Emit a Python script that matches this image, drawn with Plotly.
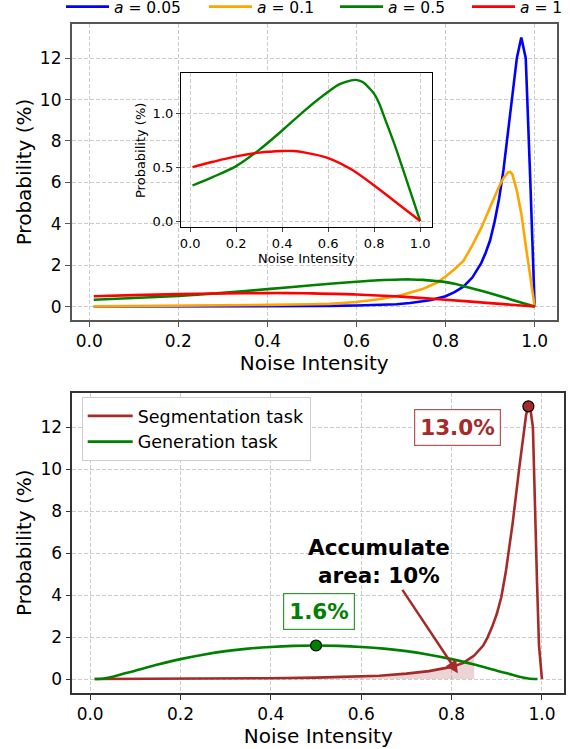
import plotly.graph_objects as go

# ---------------- data ----------------
blue_x = [0.01, 0.1, 0.2, 0.3, 0.4, 0.5, 0.54, 0.6, 0.65, 0.69, 0.72, 0.765, 0.8, 0.82, 0.84, 0.86,
          0.88, 0.89, 0.9, 0.91, 0.92, 0.93, 0.94, 0.95, 0.96, 0.97, 0.98, 0.99, 1.0]
blue_y = [0.0, 0.0, 0.0, 0.005, 0.01, 0.02, 0.03, 0.05, 0.08, 0.11, 0.17, 0.3, 0.5, 0.7, 0.96, 1.4,
          2.1, 2.6, 3.2, 4.1, 5.2, 6.6, 8.4, 10.2, 12.0, 13.0, 12.0, 6.2, 0.0]

orange_x = [0.01, 0.1, 0.2, 0.3, 0.4, 0.5, 0.54, 0.6, 0.65, 0.7, 0.75, 0.78, 0.8, 0.82, 0.84, 0.86,
            0.88, 0.9, 0.92, 0.93, 0.94, 0.945, 0.95, 0.96, 0.97, 0.98, 0.99, 1.0]
orange_y = [0.01, 0.02, 0.03, 0.05, 0.08, 0.11, 0.13, 0.22, 0.35, 0.55, 0.86, 1.15, 1.45, 1.8, 2.2, 2.95,
            3.8, 4.8, 5.8, 6.2, 6.48, 6.5, 6.38, 5.6, 4.5, 2.95, 1.55, 0.0]

green_x = [0.01, 0.1, 0.2, 0.3, 0.4, 0.5, 0.6, 0.65, 0.7, 0.72, 0.75, 0.78, 0.8, 0.82, 0.85, 0.88,
           0.9, 0.95, 1.0]
green_y = [0.33, 0.41, 0.51, 0.66, 0.84, 1.03, 1.2, 1.27, 1.305, 1.31, 1.29, 1.23, 1.18, 1.1, 0.93, 0.76,
           0.64, 0.32, 0.0]

red_x = [0.01, 0.1, 0.2, 0.3, 0.4, 0.45, 0.5, 0.6, 0.7, 0.8, 0.9, 1.0]
red_y = [0.50, 0.55, 0.60, 0.635, 0.65, 0.65, 0.635, 0.585, 0.48, 0.33, 0.165, 0.0]

a_labels = ["0.05", "0.1", "0.5", "1"]

seg_x = [0.01, 0.2, 0.4, 0.5, 0.6, 0.64, 0.7, 0.75, 0.8, 0.825, 0.85, 0.87, 0.88, 0.89, 0.9, 0.91,
         0.92, 0.935, 0.95, 0.96, 0.965, 0.97, 0.975, 0.98, 0.9825, 0.985, 0.989, 0.9935, 1.0]
seg_y = [0.0, 0.01, 0.04, 0.07, 0.12, 0.16, 0.26, 0.38, 0.58, 0.76, 1.12, 1.6, 2.0, 2.5, 3.1, 3.9,
         5.1, 7.4, 10.1, 11.9, 12.6, 13.0, 12.8, 12.0, 10.3, 8.0, 4.7, 1.6, 0.0]

gen_x = [0.01, 0.03, 0.05, 0.075, 0.1, 0.15, 0.2, 0.25, 0.3, 0.35, 0.4, 0.45, 0.5, 0.55, 0.6, 0.65,
         0.7, 0.75, 0.8, 0.85, 0.9, 0.925, 0.95, 0.97, 0.99]
gen_y = [0.0, 0.03, 0.11, 0.26, 0.4, 0.69, 0.95, 1.16, 1.33, 1.45, 1.53, 1.58, 1.6, 1.58, 1.53, 1.45,
         1.33, 1.16, 0.95, 0.69, 0.4, 0.26, 0.11, 0.03, 0.0]

accum_end = 0.85
accum_label = "Accumulate<br>area: 10%"

# ---------------- styles ----------------
FONT = "DejaVu Sans"
BROWN = "#a52a2a"
GREEN = "#008000"
W, H = 570, 749

fig = go.Figure()

# one single-entry legend per top series so each can sit where the reference puts it
top_legends = ["legend", "legend3", "legend4", "legend5"]
top_legend_px = [69, 212, 343, 475]

top_series = [(blue_x, blue_y, "#0000ff"), (orange_x, orange_y, "#ffa500"),
              (green_x, green_y, GREEN), (red_x, red_y, "#ff0000")]
for (xs, ys, c), lab, lg in zip(top_series, a_labels, top_legends):
    smooth = c in (GREEN, "#ff0000")
    fig.add_trace(go.Scatter(x=xs, y=ys, mode="lines", name=f"<i>a</i> = {lab}",
                             line=dict(color=c, width=2.6, shape="spline" if smooth else "linear",
                                       smoothing=0.8),
                             xaxis="x", yaxis="y", legend=lg))

# inset (a = 0.5, a = 1)
for xs, ys, c in [(green_x, green_y, GREEN), (red_x, red_y, "#ff0000")]:
    fig.add_trace(go.Scatter(x=xs, y=ys, mode="lines", showlegend=False,
                             line=dict(color=c, width=2.4, shape="spline", smoothing=0.8),
                             xaxis="x3", yaxis="y3"))

# bottom: shaded accumulated area
fx = [x for x in seg_x if x <= accum_end]
fy = [y for x, y in zip(seg_x, seg_y) if x <= accum_end]
fig.add_trace(go.Scatter(x=fx + [fx[-1]], y=fy + [0], mode="lines", fill="tozeroy",
                         fillcolor="rgba(165,42,42,0.2)", line=dict(width=0),
                         showlegend=False, xaxis="x2", yaxis="y2", hoverinfo="skip"))
fig.add_trace(go.Scatter(x=seg_x, y=seg_y, mode="lines", name="Segmentation task",
                         line=dict(color=BROWN, width=2.6), xaxis="x2", yaxis="y2", legend="legend2"))
fig.add_trace(go.Scatter(x=gen_x, y=gen_y, mode="lines", name="Generation task",
                         line=dict(color=GREEN, width=2.6, shape="spline", smoothing=0.8),
                         xaxis="x2", yaxis="y2", legend="legend2"))

si = seg_y.index(max(seg_y))
gi = gen_y.index(max(gen_y))
fig.add_trace(go.Scatter(x=[seg_x[si]], y=[seg_y[si]], mode="markers", showlegend=False,
                         marker=dict(color=BROWN, size=11, line=dict(color="black", width=1.2)),
                         xaxis="x2", yaxis="y2"))
fig.add_trace(go.Scatter(x=[gen_x[gi]], y=[gen_y[gi]], mode="markers", showlegend=False,
                         marker=dict(color=GREEN, size=11, line=dict(color="black", width=1.2)),
                         xaxis="x2", yaxis="y2"))

grid = dict(showgrid=True, gridcolor="#cccccc", griddash="4px,2px", gridwidth=1, zeroline=False)
tickfont = dict(family=FONT, size=17, color="black")
titlefont = dict(family=FONT, size=20, color="black")
frame = dict(showline=True, mirror=True, linewidth=1.6, ticks="outside", ticklen=5, tickwidth=1.2)

xr = [-0.0395, 1.0495]
yr = [-0.65, 13.65]
ticks01 = [0, 0.2, 0.4, 0.6, 0.8, 1.0]
ticks_y = [0, 2, 4, 6, 8, 10, 12]

layout_legends = {}
for lg, px in zip(top_legends, top_legend_px):
    layout_legends[lg] = dict(orientation="h", x=(px - 8) / W, xanchor="left", y=1.0133,
                              yanchor="top", font=dict(family=FONT, size=15.5),
                              bgcolor="rgba(0,0,0,0)", itemwidth=43)

fig.update_layout(
    width=W, height=H, margin=dict(l=0, r=0, t=0, b=0, autoexpand=False),
    paper_bgcolor="white", plot_bgcolor="white",
    font=dict(family=FONT, color="black"),
    xaxis=dict(domain=[71.7 / W, 556.7 / W], range=xr, tickvals=ticks01, tickformat=".1f",
               title=dict(text="Noise Intensity", font=titlefont, standoff=4), tickfont=tickfont,
               linecolor="#555555", tickcolor="#555555", anchor="y", **grid, **frame),
    yaxis=dict(domain=[1 - 320 / H, 1 - 24 / H], range=yr, tickvals=ticks_y,
               title=dict(text="Probability (%)", font=titlefont, standoff=3), tickfont=tickfont,
               linecolor="#555555", tickcolor="#555555", anchor="x", **grid, **frame),
    xaxis2=dict(domain=[72.3 / W, 564.3 / W], range=xr, tickvals=ticks01, tickformat=".1f",
                title=dict(text="Noise Intensity", font=titlefont, standoff=4), tickfont=tickfont,
                linecolor="#333333", tickcolor="#333333", anchor="y2", **grid, **frame),
    yaxis2=dict(domain=[1 - 692.7 / H, 1 - 392.7 / H], range=yr, tickvals=ticks_y,
                title=dict(text="Probability (%)", font=titlefont, standoff=3), tickfont=tickfont,
                linecolor="#333333", tickcolor="#333333", anchor="x2", **grid, **frame),
    xaxis3=dict(domain=[181 / W, 431.7 / W], range=[-0.04, 1.05], tickvals=ticks01, tickformat=".1f",
                title=dict(text="Noise Intensity", font=dict(family=FONT, size=13), standoff=2),
                tickfont=dict(family=FONT, size=13), linecolor="black", anchor="y3",
                showline=True, mirror=True, linewidth=1.2, ticks="outside", ticklen=4, **grid),
    yaxis3=dict(domain=[1 - 227.3 / H, 1 - 73.3 / H], range=[-0.058, 1.371], tickvals=[0, 0.5, 1.0],
                tickformat=".1f",
                title=dict(text="Probability (%)", font=dict(family=FONT, size=13), standoff=4),
                tickfont=dict(family=FONT, size=13), linecolor="black", anchor="x3",
                showline=True, mirror=True, linewidth=1.2, ticks="outside", ticklen=4, **grid),
    legend2=dict(x=81.7 / W, xanchor="left", y=1 - 397 / H, yanchor="top",
                 font=dict(family=FONT, size=17.5), bgcolor="white", bordercolor="#cccccc",
                 borderwidth=1, tracegroupgap=0, itemwidth=45),
    **layout_legends,
)

ann = []
ann.append(dict(x=0.813, y=12.0, xref="x2", yref="y2", text="<b>13.0%</b>", showarrow=False,
                font=dict(family=FONT, size=21.5, color=BROWN), bgcolor="white",
                bordercolor="rgba(165,42,42,0.8)", borderwidth=1.2, borderpad=5))
ann.append(dict(x=0.506, y=3.2, xref="x2", yref="y2", text="<b>1.6%</b>", showarrow=False,
                font=dict(family=FONT, size=21.5, color=GREEN), bgcolor="white",
                bordercolor="rgba(0,128,0,0.8)", borderwidth=1.2, borderpad=5))
ann.append(dict(x=0.64, y=5.6, xref="x2", yref="y2", text="<b>" + accum_label + "</b>",
                showarrow=False, align="center", font=dict(family=FONT, size=21.5, color="black")))
ann.append(dict(x=0.814, y=0.28, xref="x2", yref="y2", ax=0.689, ay=4.32, axref="x2", ayref="y2",
                text="", showarrow=True, arrowhead=2, arrowsize=1, arrowwidth=2.5, arrowcolor=BROWN))
fig.update_layout(annotations=ann)

fig.write_html("out.html", config={"displayModeBar": False},
               post_script="document.body.style.margin='0';")
